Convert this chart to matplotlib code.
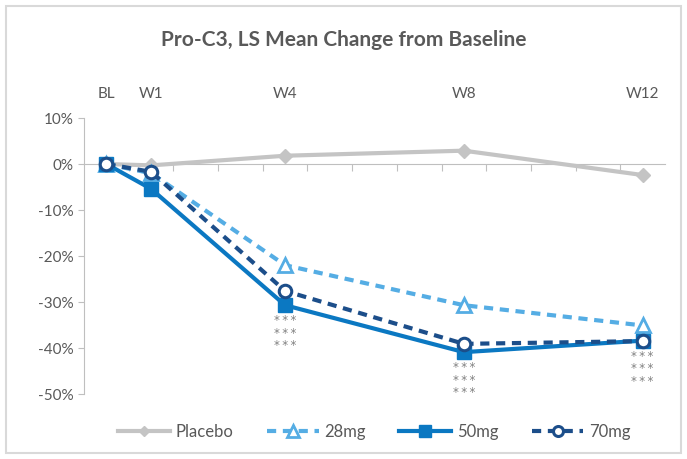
import matplotlib.pyplot as plt
from matplotlib.patches import Rectangle

plt.rcParams['font.family'] = ['Lato', 'DejaVu Sans']

# Datos
weeks = [0, 1, 4, 8, 12]
week_labels = ['BL', 'W1', 'W4', 'W8', 'W12']
placebo = [0, -0.3, 1.8, 2.9, -2.4]
mg28 = [0, -2.0, -22.0, -30.7, -35.1]
mg50 = [0, -5.4, -30.7, -40.9, -38.4]
mg70 = [0, -1.7, -27.6, -39.1, -38.5]
stars_weeks = [4, 8, 12]
yticks = [10, 0, -10, -20, -30, -40, -50]

gray_txt = '#595959'
c_pla = '#C4C4C4'
c_28 = '#55ADE4'
c_50 = '#0B78C2'
c_70 = '#1C4E8A'

fig = plt.figure(figsize=(6.87, 4.59), dpi=100)
ax = fig.add_axes([0.1223, 0.1416, 0.8457, 0.6013])

ax.plot(weeks, placebo, color=c_pla, lw=3, marker='D', ms=7, label='Placebo', zorder=2)
ax.plot(weeks, mg28, color=c_28, lw=3, ls=(0, (2.2, 1.6)), marker='^', ms=10,
        mfc='white', mec=c_28, mew=2, label='28mg', zorder=3)
ax.plot(weeks, mg50, color=c_50, lw=3, marker='s', ms=10, mec=c_50, label='50mg', zorder=4)
ax.plot(weeks, mg70, color=c_70, lw=3, ls=(0, (2.2, 1.6)), marker='o', ms=9,
        mfc='white', mec=c_70, mew=2.2, label='70mg', zorder=5)

# asteriscos
for w in stars_weeks:
    y = mg50[weeks.index(w)]
    ax.text(w, y - 2.0, '*\u2009*\u2009*\n*\u2009*\u2009*\n*\u2009*\u2009*', ha='center', va='top',
            fontsize=8.5, color='#7F7F7F', linespacing=0.95, family='DejaVu Sans')

ax.set_xlim(-0.5, 12.5)
ax.set_ylim(-50, 10)
ax.set_yticks(yticks)
ax.set_yticklabels([f'{v}%' for v in yticks])
ax.tick_params(axis='y', colors='#BFBFBF', labelcolor=gray_txt, labelsize=11, length=4)

for s in ['top', 'right']:
    ax.spines[s].set_visible(False)
ax.spines['left'].set_color('#BFBFBF')
ax.spines['bottom'].set_position(('data', 0))
ax.spines['bottom'].set_color('#BFBFBF')
ax.spines['bottom'].set_zorder(1)
ax.set_xticks([i + 0.5 for i in range(12)])
ax.set_xticklabels([])
ax.tick_params(axis='x', colors='#BFBFBF', length=5, direction='out')

top = ax.secondary_xaxis('top')
top.set_xticks(weeks)
top.set_xticklabels(week_labels)
top.tick_params(length=0, labelcolor=gray_txt, labelsize=11, pad=12)
top.spines['top'].set_visible(False)

fig.suptitle('Pro-C3, LS Mean Change from Baseline', y=0.935, fontsize=15,
             fontweight='bold', color=gray_txt)

leg = ax.legend(loc='upper center', bbox_to_anchor=(0.5, -0.055), ncol=4, frameon=False,
                fontsize=12, handlelength=3.1, columnspacing=2.0, handletextpad=0.35,
                markerscale=0.8)
for t in leg.get_texts():
    t.set_color(gray_txt)

fig.patches.append(Rectangle((0.009, 0.013), 0.982, 0.974, transform=fig.transFigure,
                             fill=False, edgecolor='#D9D9D9', lw=1.5))

plt.savefig('out.png', dpi=100)
